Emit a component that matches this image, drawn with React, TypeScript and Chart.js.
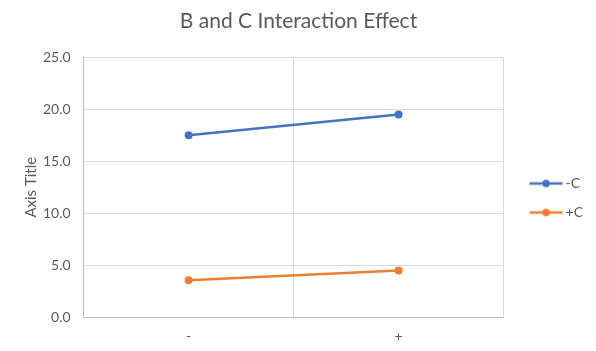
import React, { useEffect, useRef } from "react";
import { Chart, registerables } from "chart.js";

Chart.register(...registerables);

const categories = ["-", "+"];
const seriesNames = ["-C", "+C"];
const minusC = [17.5, 19.5];
const plusC = [3.55, 4.5];
const colors = ["#4472C4", "#ED7D31"];
const yMin = 0;
const yMax = 25;
const yStep = 5;

const FONT = "Lato, 'Liberation Sans', sans-serif";
const TEXT = "#595959";

function legendImage(color: string): HTMLCanvasElement {
  const c = document.createElement("canvas");
  c.width = 51;
  c.height = 10;
  const ctx = c.getContext("2d")!;
  ctx.strokeStyle = color;
  ctx.lineWidth = 2.5;
  ctx.beginPath();
  ctx.moveTo(16.5, 5);
  ctx.lineTo(49.5, 5);
  ctx.stroke();
  ctx.fillStyle = color;
  ctx.beginPath();
  ctx.arc(33, 5, 3.8, 0, Math.PI * 2);
  ctx.fill();
  return c;
}

export default function App() {
  const ref = useRef<HTMLCanvasElement>(null);
  useEffect(() => {
    if (!ref.current) return;
    const imgs = colors.map(legendImage);
    const chart = new Chart(ref.current, {
      type: "line",
      data: {
        labels: categories,
        datasets: [minusC, plusC].map((d, i) => ({
          label: seriesNames[i],
          data: d,
          borderColor: colors[i],
          backgroundColor: colors[i],
          borderWidth: 2.5,
          pointRadius: 4,
          pointHoverRadius: 4,
          pointBorderWidth: 0,
          tension: 0,
        })),
      },
      options: {
        responsive: false,
        animation: false,
        layout: { padding: { left: 4, right: 3, top: 0, bottom: -5 } },
        plugins: {
          tooltip: { enabled: false },
          title: {
            display: true,
            text: "B and C Interaction Effect",
            color: TEXT,
            font: { family: FONT, size: 21, weight: "normal" },
            padding: { top: 9, bottom: 23 },
          },
          legend: {
            position: "right",
            title: { display: true, text: " ", font: { size: 10 }, padding: 14 },
            labels: {
              usePointStyle: true,
              pointStyleWidth: 40,
              padding: 15,
              color: TEXT,
              font: { family: FONT, size: 14 },
              generateLabels: (ch: any) =>
                ch.data.datasets.map((ds: any, i: number) => ({
                  text: ds.label,
                  pointStyle: imgs[i],
                  fillStyle: colors[i],
                  strokeStyle: colors[i],
                  lineWidth: 0,
                  hidden: false,
                  datasetIndex: i,
                  fontColor: TEXT,
                })),
            },
          },
        },
        scales: {
          x: {
            offset: true,
            grid: {
              offset: true,
              color: "#D9D9D9",
              drawTicks: false,
            },
            border: { color: "#BFBFBF" },
            ticks: {
              color: TEXT,
              padding: 11,
              font: { family: FONT, size: 14 },
            },
          },
          y: {
            min: yMin,
            max: yMax,
            grid: { color: "#D9D9D9", drawTicks: false },
            border: { color: "#BFBFBF" },
            ticks: {
              stepSize: yStep,
              color: TEXT,
              padding: 13,
              font: { family: FONT, size: 14 },
              callback: (v: any) => Number(v).toFixed(1),
            },
            title: {
              display: true,
              text: "Axis Title",
              color: TEXT,
              font: { family: FONT, size: 15, weight: "normal" },
              padding: { top: 18, bottom: -10 },
            },
          },
        },
      },
    });
    return () => chart.destroy();
  }, []);
  return (
    <div style={{ position: "absolute", left: 0, top: 0, width: 596, height: 351, background: "#fff" }}>
      <canvas ref={ref} width={596} height={351} style={{ width: 596, height: 351 }} />
    </div>
  );
}
